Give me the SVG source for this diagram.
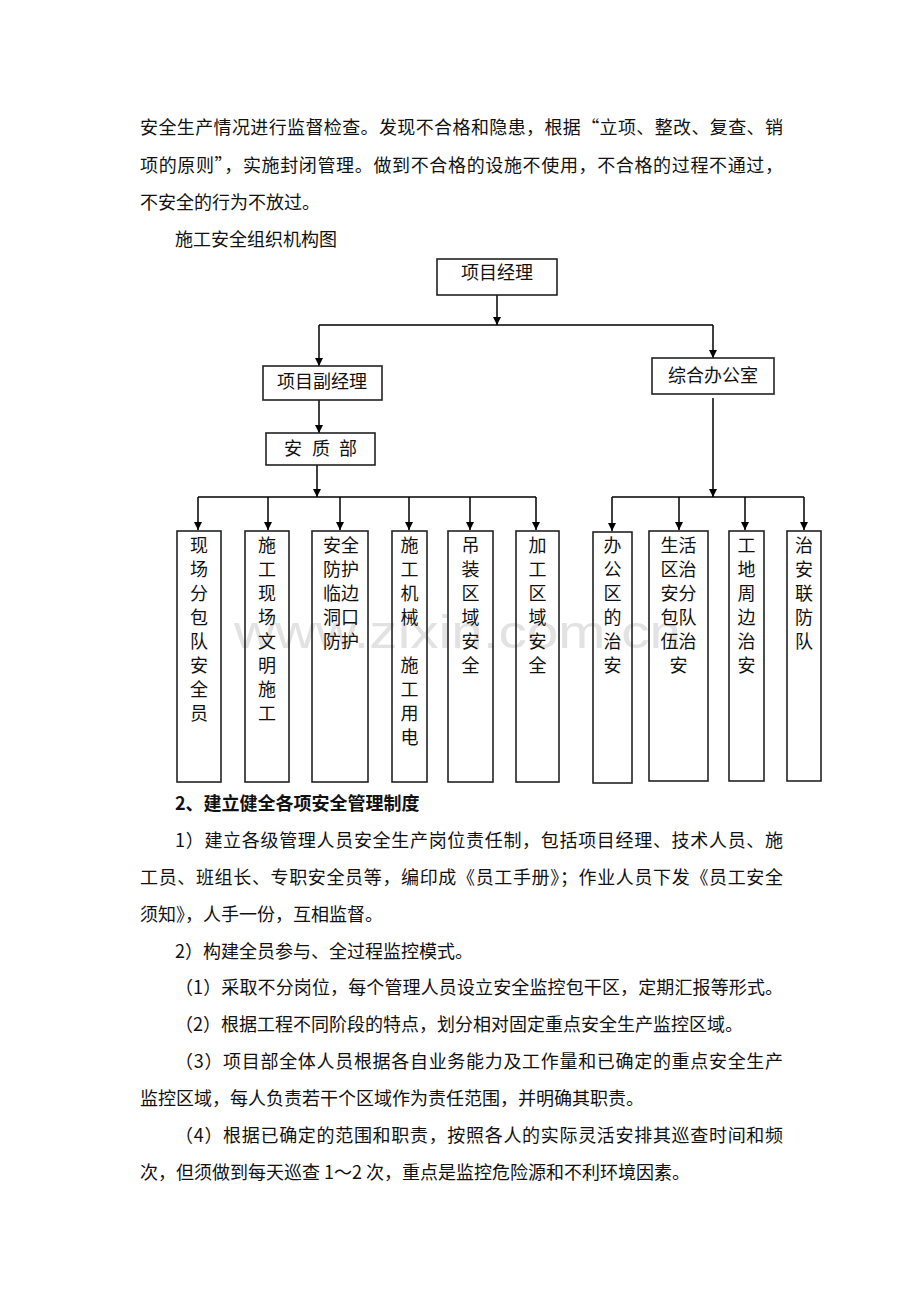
<svg xmlns="http://www.w3.org/2000/svg" width="920" height="1302" viewBox="0 0 920 1302">
<defs>
<style>
.t{font-family:"Noto Sans CJK SC","Noto Sans",sans-serif;font-size:18px;fill:#111;}
.b{font-weight:bold;}
.c{text-anchor:middle;}
.box{fill:none;stroke:#222;stroke-width:1.6;}
.ln{fill:none;stroke:#000;stroke-width:1.5;}
.wm{font-family:"Liberation Sans",Arial,sans-serif;font-size:46px;fill:#e2e2e2;}
</style>
<marker id="ah" viewBox="0 0 10 10" refX="10" refY="5" markerWidth="9" markerHeight="8" markerUnits="userSpaceOnUse" orient="auto">
<path d="M0,0 L10,5 L0,10 z" fill="#000"/>
</marker>
</defs>
<rect width="920" height="1302" fill="#fff"/>
<text class="wm" x="234" y="648" textLength="447" lengthAdjust="spacingAndGlyphs">www.zixin.com.cn</text>

<g id="para-top" class="t">
<text x="140" y="134" textLength="643" lengthAdjust="spacing">安全生产情况进行监督检查。发现不合格和隐患，根据“立项、整改、复查、销</text>
<text x="140" y="172" textLength="643" lengthAdjust="spacing">项的原则”，实施封闭管理。做到不合格的设施不使用，不合格的过程不通过，</text>
<text x="140" y="209">不安全的行为不放过。</text>
<text x="175" y="246">施工安全组织机构图</text>
</g>

<g id="connectors">
<line class="ln" x1="497" y1="295" x2="497" y2="325" marker-end="url(#ah)"/>
<line class="ln" x1="319" y1="325" x2="713" y2="325"/>
<line class="ln" x1="319" y1="325" x2="319" y2="366" marker-end="url(#ah)"/>
<line class="ln" x1="713" y1="325" x2="713" y2="358" marker-end="url(#ah)"/>
<line class="ln" x1="319" y1="400" x2="319" y2="433" marker-end="url(#ah)"/>
<line class="ln" x1="317" y1="465" x2="317" y2="497" marker-end="url(#ah)"/>
<line class="ln" x1="198" y1="497" x2="536" y2="497"/>
<line class="ln" x1="198" y1="497" x2="198" y2="530" marker-end="url(#ah)"/>
<line class="ln" x1="268" y1="497" x2="268" y2="530" marker-end="url(#ah)"/>
<line class="ln" x1="340" y1="497" x2="340" y2="530" marker-end="url(#ah)"/>
<line class="ln" x1="409" y1="497" x2="409" y2="530" marker-end="url(#ah)"/>
<line class="ln" x1="470" y1="497" x2="470" y2="530" marker-end="url(#ah)"/>
<line class="ln" x1="536" y1="497" x2="536" y2="530" marker-end="url(#ah)"/>
<line class="ln" x1="713" y1="398" x2="713" y2="497" marker-end="url(#ah)"/>
<line class="ln" x1="612" y1="497" x2="804" y2="497"/>
<line class="ln" x1="612" y1="497" x2="612" y2="531" marker-end="url(#ah)"/>
<line class="ln" x1="679" y1="497" x2="679" y2="530" marker-end="url(#ah)"/>
<line class="ln" x1="745" y1="497" x2="745" y2="530" marker-end="url(#ah)"/>
<line class="ln" x1="804" y1="497" x2="804" y2="530" marker-end="url(#ah)"/>
</g>

<g id="n-manager">
<rect class="box" x="437" y="259" width="120" height="36"/>
<text class="t c" x="497" y="279">项目经理</text>
</g>
<g id="n-deputy">
<rect class="box" x="263" y="366" width="119" height="34"/>
<text class="t c" x="322" y="388">项目副经理</text>
</g>
<g id="n-office">
<rect class="box" x="652" y="358" width="122" height="36"/>
<text class="t c" x="713" y="382">综合办公室</text>
</g>
<g id="n-aqz">
<rect class="box" x="266" y="433" width="109" height="32"/>
<text class="t c" x="293 321 348" y="455">安质部</text>
</g>

<g id="n-l1">
<rect class="box" x="177" y="531" width="44" height="251"/>
<text class="t c" y="552"><tspan x="199">现</tspan><tspan x="199" dy="24">场</tspan><tspan x="199" dy="24">分</tspan><tspan x="199" dy="24">包</tspan><tspan x="199" dy="24">队</tspan><tspan x="199" dy="24">安</tspan><tspan x="199" dy="24">全</tspan><tspan x="199" dy="24">员</tspan></text>
</g>
<g id="n-l2">
<rect class="box" x="245" y="531" width="44" height="251"/>
<text class="t c" y="552"><tspan x="267">施</tspan><tspan x="267" dy="24">工</tspan><tspan x="267" dy="24">现</tspan><tspan x="267" dy="24">场</tspan><tspan x="267" dy="24">文</tspan><tspan x="267" dy="24">明</tspan><tspan x="267" dy="24">施</tspan><tspan x="267" dy="24">工</tspan></text>
</g>
<g id="n-l3">
<rect class="box" x="312" y="531" width="56" height="251"/>
<text class="t c" y="552"><tspan x="341">安全</tspan><tspan x="341" dy="24">防护</tspan><tspan x="341" dy="24">临边</tspan><tspan x="341" dy="24">洞口</tspan><tspan x="341" dy="24">防护</tspan></text>
</g>
<g id="n-l4">
<rect class="box" x="392" y="531" width="35" height="251"/>
<text class="t c" y="552"><tspan x="409.5">施</tspan><tspan x="409.5" dy="24">工</tspan><tspan x="409.5" dy="24">机</tspan><tspan x="409.5" dy="24">械</tspan><tspan x="409.5" dy="48">施</tspan><tspan x="409.5" dy="24">工</tspan><tspan x="409.5" dy="24">用</tspan><tspan x="409.5" dy="24">电</tspan></text>
</g>
<g id="n-l5">
<rect class="box" x="448" y="531" width="45" height="251"/>
<text class="t c" y="552"><tspan x="470.5">吊</tspan><tspan x="470.5" dy="24">装</tspan><tspan x="470.5" dy="24">区</tspan><tspan x="470.5" dy="24">域</tspan><tspan x="470.5" dy="24">安</tspan><tspan x="470.5" dy="24">全</tspan></text>
</g>
<g id="n-l6">
<rect class="box" x="516" y="531" width="43" height="251"/>
<text class="t c" y="552"><tspan x="537.5">加</tspan><tspan x="537.5" dy="24">工</tspan><tspan x="537.5" dy="24">区</tspan><tspan x="537.5" dy="24">域</tspan><tspan x="537.5" dy="24">安</tspan><tspan x="537.5" dy="24">全</tspan></text>
</g>

<g id="n-r1">
<rect class="box" x="593" y="532" width="39" height="251"/>
<text class="t c" y="552"><tspan x="612.5">办</tspan><tspan x="612.5" dy="24">公</tspan><tspan x="612.5" dy="24">区</tspan><tspan x="612.5" dy="24">的</tspan><tspan x="612.5" dy="24">治</tspan><tspan x="612.5" dy="24">安</tspan></text>
</g>
<g id="n-r2">
<rect class="box" x="649" y="531" width="59" height="250"/>
<text class="t c" y="552"><tspan x="678.5">生活</tspan><tspan x="678.5" dy="24">区治</tspan><tspan x="678.5" dy="24">安分</tspan><tspan x="678.5" dy="24">包队</tspan><tspan x="678.5" dy="24">伍治</tspan><tspan x="678.5" dy="24">安</tspan></text>
</g>
<g id="n-r3">
<rect class="box" x="729" y="531" width="35" height="250"/>
<text class="t c" y="552"><tspan x="746.5">工</tspan><tspan x="746.5" dy="24">地</tspan><tspan x="746.5" dy="24">周</tspan><tspan x="746.5" dy="24">边</tspan><tspan x="746.5" dy="24">治</tspan><tspan x="746.5" dy="24">安</tspan></text>
</g>
<g id="n-r4">
<rect class="box" x="787" y="531" width="34" height="250"/>
<text class="t c" y="552"><tspan x="804">治</tspan><tspan x="804" dy="24">安</tspan><tspan x="804" dy="24">联</tspan><tspan x="804" dy="24">防</tspan><tspan x="804" dy="24">队</tspan></text>
</g>

<g id="para-bottom" class="t">
<text class="b" x="175" y="810">2、建立健全各项安全管理制度</text>
<text x="175" y="847" textLength="608" lengthAdjust="spacing">1）建立各级管理人员安全生产岗位责任制，包括项目经理、技术人员、施</text>
<text x="140" y="884" textLength="643" lengthAdjust="spacing">工员、班组长、专职安全员等，编印成《员工手册》；作业人员下发《员工安全</text>
<text x="140" y="921">须知》，人手一份，互相监督。</text>
<text x="175" y="958">2）构建全员参与、全过程监控模式。</text>
<text x="175" y="994" textLength="608" lengthAdjust="spacing">（1）采取不分岗位，每个管理人员设立安全监控包干区，定期汇报等形式。</text>
<text x="175" y="1031">（2）根据工程不同阶段的特点，划分相对固定重点安全生产监控区域。</text>
<text x="175" y="1068" textLength="608" lengthAdjust="spacing">（3）项目部全体人员根据各自业务能力及工作量和已确定的重点安全生产</text>
<text x="140" y="1105">监控区域，每人负责若干个区域作为责任范围，并明确其职责。</text>
<text x="175" y="1142" textLength="608" lengthAdjust="spacing">（4）根据已确定的范围和职责，按照各人的实际灵活安排其巡查时间和频</text>
<text x="140" y="1179">次，但须做到每天巡查 1～2 次，重点是监控危险源和不利环境因素。</text>
</g>
</svg>
